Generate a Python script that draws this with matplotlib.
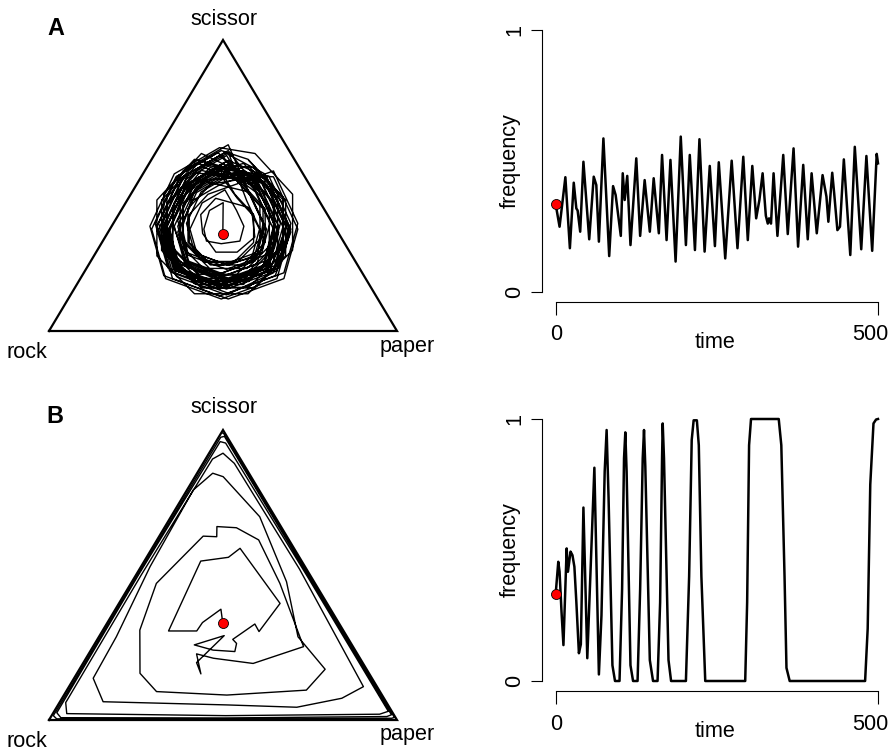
import matplotlib
matplotlib.use("Agg")
import matplotlib.pyplot as plt
import matplotlib.transforms as mtransforms

plt.rcParams['font.family'] = ['Liberation Sans', 'DejaVu Sans']

# simplex corners as (paper, scissor) fractions: rock, paper, scissor, back to rock
corner_paper = [0, 1, 0, 0]
corner_scissor = [0, 0, 1, 0]

# panel A: trajectory inside the simplex (paper, scissor fractions, estimated by eye)
pathA_paper = [0.333,
    0.280, 0.254, 0.270, 0.298, 0.345, 0.394, 0.380, 0.332,
    0.263, 0.220, 0.230, 0.293, 0.390, 0.453, 0.430, 0.360,
    0.251, 0.236, 0.274, 0.344, 0.405, 0.430, 0.384, 0.313,
    0.229, 0.178, 0.205, 0.265, 0.382, 0.470, 0.430, 0.334,
    0.192, 0.169, 0.227, 0.330, 0.423, 0.449, 0.391, 0.284,
    0.212, 0.144, 0.160, 0.250, 0.416, 0.516, 0.480, 0.352,
    0.162, 0.140, 0.209, 0.347, 0.470, 0.505, 0.428, 0.286,
    0.246, 0.186, 0.200, 0.288, 0.424, 0.512, 0.465, 0.368,
    0.189, 0.112, 0.130, 0.243, 0.418, 0.531, 0.505, 0.346,
    0.123, 0.085, 0.181, 0.354, 0.508, 0.551, 0.455, 0.277,
    0.185, 0.100, 0.120, 0.245, 0.440, 0.565, 0.520, 0.360,
    0.222, 0.154, 0.170, 0.290, 0.426, 0.526, 0.490, 0.362,
    0.192, 0.166, 0.233, 0.354, 0.462, 0.492, 0.425, 0.300,
    0.239, 0.188, 0.200, 0.275, 0.392, 0.467, 0.440, 0.344,
    0.209, 0.132, 0.150, 0.263, 0.438, 0.551, 0.510, 0.366,
    0.133, 0.099, 0.185, 0.341, 0.479, 0.518, 0.432, 0.271,
    0.206, 0.146, 0.175, 0.248, 0.384, 0.472, 0.440, 0.328,
    0.195, 0.110, 0.130, 0.255, 0.450, 0.575, 0.530, 0.370,
    0.222, 0.203, 0.251, 0.337, 0.414, 0.436, 0.388, 0.299,
    0.202, 0.134, 0.150, 0.250, 0.406, 0.506, 0.470, 0.342,
    0.219, 0.142, 0.160, 0.273, 0.448, 0.545, 0.520, 0.376,
    0.182, 0.152, 0.229, 0.367, 0.490, 0.525, 0.448, 0.306,
    0.226, 0.166, 0.180, 0.268, 0.404, 0.492, 0.460, 0.348,
    0.232, 0.164, 0.180, 0.280, 0.436, 0.536, 0.500, 0.372,
    0.133, 0.095, 0.191, 0.364, 0.518, 0.561, 0.465, 0.287,
    0.175, 0.090, 0.110, 0.235, 0.430, 0.555, 0.525, 0.350,
    0.199, 0.122, 0.140, 0.253, 0.428, 0.541, 0.500, 0.356,
    0.172, 0.146, 0.213, 0.334, 0.442, 0.472, 0.405, 0.280,
    0.249, 0.198, 0.210, 0.285, 0.402, 0.477, 0.450, 0.354,
    0.212, 0.144, 0.160, 0.260, 0.416, 0.516, 0.480, 0.352,
    0.153, 0.119, 0.205, 0.361, 0.499, 0.538, 0.452, 0.291,
    0.236, 0.176, 0.190, 0.278, 0.414, 0.502, 0.470, 0.358,
    0.179, 0.102, 0.120, 0.233, 0.408, 0.521, 0.480, 0.336,
    0.212, 0.189, 0.247, 0.350, 0.443, 0.469, 0.411, 0.304,
    0.222, 0.154, 0.170, 0.270, 0.426, 0.526, 0.490, 0.362,
    0.205, 0.120, 0.140, 0.265, 0.460, 0.585, 0.540, 0.380,
    0.152, 0.122, 0.199, 0.337, 0.460, 0.495, 0.418, 0.276,
    0.216, 0.156, 0.170, 0.258, 0.394, 0.482, 0.450, 0.338,
    0.209, 0.132, 0.150, 0.263, 0.438, 0.551, 0.510, 0.366,
    0.143, 0.109, 0.195, 0.351, 0.489, 0.528, 0.442, 0.281]
pathA_scissor = [0.333,
    0.441, 0.414, 0.350, 0.309, 0.300, 0.309, 0.360, 0.414,
    0.485, 0.440, 0.350, 0.265, 0.230, 0.265, 0.350, 0.425,
    0.456, 0.400, 0.335, 0.271, 0.271, 0.323, 0.400, 0.456,
    0.532, 0.478, 0.355, 0.268, 0.226, 0.255, 0.370, 0.478,
    0.514, 0.430, 0.315, 0.237, 0.237, 0.315, 0.430, 0.514,
    0.576, 0.504, 0.360, 0.235, 0.168, 0.224, 0.360, 0.504,
    0.552, 0.440, 0.286, 0.182, 0.175, 0.286, 0.440, 0.552,
    0.539, 0.476, 0.350, 0.231, 0.182, 0.231, 0.365, 0.476,
    0.603, 0.522, 0.360, 0.207, 0.144, 0.207, 0.345, 0.522,
    0.590, 0.450, 0.258, 0.128, 0.128, 0.258, 0.450, 0.590,
    0.620, 0.530, 0.350, 0.180, 0.110, 0.180, 0.350, 0.530,
    0.586, 0.514, 0.370, 0.220, 0.178, 0.234, 0.370, 0.514,
    0.538, 0.440, 0.306, 0.215, 0.215, 0.306, 0.440, 0.538,
    0.502, 0.448, 0.340, 0.238, 0.196, 0.238, 0.340, 0.448,
    0.613, 0.532, 0.370, 0.217, 0.154, 0.217, 0.370, 0.532,
    0.576, 0.450, 0.277, 0.160, 0.160, 0.277, 0.450, 0.576,
    0.549, 0.486, 0.345, 0.241, 0.192, 0.241, 0.360, 0.486,
    0.640, 0.550, 0.370, 0.200, 0.130, 0.200, 0.370, 0.550,
    0.470, 0.400, 0.304, 0.239, 0.239, 0.304, 0.400, 0.470,
    0.566, 0.494, 0.350, 0.214, 0.158, 0.214, 0.350, 0.494,
    0.583, 0.502, 0.340, 0.187, 0.124, 0.200, 0.340, 0.502,
    0.562, 0.450, 0.296, 0.192, 0.192, 0.296, 0.450, 0.562,
    0.569, 0.506, 0.380, 0.261, 0.212, 0.261, 0.380, 0.506,
    0.576, 0.504, 0.360, 0.224, 0.168, 0.224, 0.360, 0.504,
    0.610, 0.470, 0.278, 0.148, 0.148, 0.278, 0.470, 0.610,
    0.630, 0.540, 0.360, 0.190, 0.120, 0.190, 0.340, 0.540,
    0.613, 0.532, 0.370, 0.217, 0.154, 0.217, 0.370, 0.532,
    0.518, 0.420, 0.286, 0.195, 0.195, 0.286, 0.420, 0.518,
    0.532, 0.478, 0.370, 0.268, 0.226, 0.268, 0.370, 0.478,
    0.566, 0.494, 0.350, 0.214, 0.158, 0.214, 0.350, 0.494,
    0.566, 0.440, 0.267, 0.150, 0.150, 0.267, 0.440, 0.566,
    0.549, 0.486, 0.360, 0.241, 0.192, 0.241, 0.360, 0.486,
    0.613, 0.532, 0.370, 0.217, 0.154, 0.217, 0.370, 0.532,
    0.504, 0.420, 0.305, 0.227, 0.227, 0.305, 0.420, 0.504,
    0.556, 0.484, 0.340, 0.204, 0.148, 0.204, 0.340, 0.484,
    0.620, 0.530, 0.350, 0.180, 0.110, 0.180, 0.350, 0.530,
    0.542, 0.430, 0.276, 0.172, 0.172, 0.276, 0.430, 0.542,
    0.539, 0.476, 0.350, 0.231, 0.182, 0.231, 0.350, 0.476,
    0.603, 0.522, 0.360, 0.207, 0.144, 0.207, 0.360, 0.522,
    0.586, 0.460, 0.287, 0.170, 0.170, 0.287, 0.460, 0.586]

# panel A: frequency over time
timeA = [0, 6, 15, 22, 28, 32, 34, 38, 43, 52, 59, 63, 67, 74, 83, 89, 93, 101,
         104, 107, 111, 116, 125, 131, 138, 146, 152, 160, 165, 172, 178, 186,
         194, 202, 208, 216, 223, 231, 239, 247, 253, 263, 273, 282, 291, 298,
         305, 311, 316, 321, 326, 329, 331, 334, 338, 344, 353, 360, 369, 376,
         384, 391, 397, 405, 414, 420, 423, 429, 432, 437, 441, 447, 457, 464,
         474, 482, 491, 498, 500]
freqA = [0.333, 0.248, 0.437, 0.166, 0.416, 0.318, 0.310, 0.229, 0.496, 0.200,
         0.439, 0.407, 0.191, 0.585, 0.136, 0.403, 0.369, 0.213, 0.452, 0.350,
         0.442, 0.178, 0.509, 0.213, 0.426, 0.229, 0.433, 0.223, 0.522, 0.197,
         0.503, 0.115, 0.592, 0.178, 0.522, 0.159, 0.582, 0.153, 0.480, 0.174,
         0.494, 0.127, 0.500, 0.166, 0.515, 0.197, 0.480, 0.280, 0.350, 0.452,
         0.290, 0.260, 0.280, 0.260, 0.452, 0.213, 0.522, 0.220, 0.547, 0.172,
         0.484, 0.200, 0.452, 0.223, 0.445, 0.363, 0.267, 0.454, 0.376, 0.235,
         0.248, 0.505, 0.140, 0.553, 0.162, 0.518, 0.156, 0.526, 0.490]

# panel B: trajectory inside the simplex
pathB_paper = [0.333, 0.303, 0.273, 0.271, 0.190, 0.162, 0.235, 0.253, 0.463,
               0.451, 0.426, 0.389, 0.407, 0.416, 0.351, 0.288, 0.358, 0.325,
               0.357, 0.310, 0.366, 0.489, 0.605, 0.428, 0.292, 0.207, 0.149,
               0.166, 0.126, 0.073, 0.106, 0.181, 0.260, 0.468, 0.688, 0.706,
               0.572, 0.444, 0.255, 0.081, 0.045, 0.018, 0.026, 0.050, 0.055,
               0.124, 0.485, 0.690, 0.804, 0.846,
               0.460, 0.090, 0.040, 0.020, 0.015, 0.018, 0.040, 0.500, 0.940,
               0.960, 0.500, 0.030, 0.012, 0.007, 0.010, 0.030, 0.500, 0.965,
               0.975, 0.500, 0.015, 0.006, 0.004, 0.005, 0.020, 0.500, 0.982,
               0.988, 0.500, 0.008, 0.003]
pathB_scissor = [0.333, 0.382, 0.336, 0.307, 0.307, 0.548, 0.561, 0.592, 0.402,
                 0.305, 0.331, 0.278, 0.264, 0.236, 0.241, 0.259, 0.291, 0.198,
                 0.159, 0.228, 0.213, 0.195, 0.253, 0.471, 0.621, 0.663, 0.667,
                 0.632, 0.634, 0.471, 0.310, 0.161, 0.098, 0.086, 0.103, 0.175,
                 0.287, 0.477, 0.701, 0.839, 0.851, 0.793, 0.529, 0.287, 0.144,
                 0.063, 0.052, 0.044, 0.075, 0.115,
                 0.520, 0.885, 0.920, 0.900, 0.500, 0.060, 0.022, 0.015, 0.020,
                 0.030, 0.490, 0.955, 0.960, 0.500, 0.025, 0.008, 0.007, 0.012,
                 0.018, 0.494, 0.978, 0.975, 0.500, 0.015, 0.004, 0.003, 0.006,
                 0.009, 0.497, 0.988, 0.990]

# panel B: frequency over time
timeB = [0, 4, 6, 9, 12, 17, 19, 23, 26, 29, 32, 36, 39, 43, 49, 60, 67, 71,
         76, 79, 82, 88, 92, 99, 103, 106, 108, 110, 116, 120, 127, 131, 135,
         137, 139, 146, 151, 158, 162, 165, 166, 168, 175, 179, 202, 207, 211,
         214, 219, 222, 226, 232, 294, 297, 300, 303, 346, 350, 355, 358, 363,
         480, 484, 488, 493, 497, 500]
freqB = [0.333, 0.455, 0.417, 0.265, 0.137, 0.506, 0.417, 0.494, 0.480, 0.436,
         0.303, 0.106, 0.140, 0.662, 0.087, 0.814, 0.025, 0.250, 0.800, 0.958,
         0.700, 0.060, 0.000, 0.000, 0.350, 0.850, 0.949, 0.800, 0.060, 0.000,
         0.000, 0.350, 0.850, 0.958, 0.820, 0.080, 0.000, 0.000, 0.300, 0.850,
         0.983, 0.850, 0.080, 0.000, 0.000, 0.400, 0.920, 0.995, 0.995, 0.900,
         0.400, 0.000, 0.000, 0.300, 0.900, 1.000, 1.000, 0.900, 0.400, 0.050,
         0.000, 0.000, 0.200, 0.750, 0.983, 0.998, 1.000]

start_freq = 1 / 3
time_ticks = [0, 500]
time_ticklabels = ['0', '500']

fig = plt.figure(figsize=(8.94, 7.52), dpi=100)
W, H = 894, 752
FS = 15.6


def to_xy(paper, scissor):
    x = [p + s / 2 for p, s in zip(paper, scissor)]
    return x, list(scissor)


def simplex(rect, paper, scissor, lab_y, lw):
    ax = fig.add_axes(rect)
    ax.set_xlim(0, 1)
    ax.set_ylim(0, 1)
    ax.axis('off')
    x, y = to_xy(paper, scissor)
    ax.plot(x, y, color='black', lw=lw, clip_on=False)
    cx, cy = to_xy(corner_paper, corner_scissor)
    ax.plot(cx, cy, color='black', lw=1.6, clip_on=False, solid_joinstyle='miter')
    dx, dy = to_xy([start_freq], [start_freq])
    ax.plot(dx, dy, 'o', color='red', mec='black', mew=0.6, ms=7.2, clip_on=False,
            zorder=5)
    ax.text(0.503, lab_y[0], 'scissor', ha='center', va='baseline', fontsize=FS,
            transform=ax.transAxes)
    ax.text(-0.062, lab_y[1], 'rock', ha='center', va='baseline', fontsize=FS,
            transform=ax.transAxes)
    ax.text(1.030, lab_y[2], 'paper', ha='center', va='baseline', fontsize=FS,
            transform=ax.transAxes)
    return ax


def series(rect, t, f, xoff, lab_base):
    ax = fig.add_axes(rect)
    ax.plot(t, f, color='black', lw=1.8, clip_on=False)
    ax.plot([0], [start_freq], 'o', color='red', mec='black', mew=0.6, ms=7.2,
            clip_on=False, zorder=5)
    ax.set_xlim(0, 500)
    ax.set_ylim(0, 1)
    for side in ['top', 'right']:
        ax.spines[side].set_visible(False)
    ax.spines['left'].set_position(('outward', 9.9))
    ax.spines['bottom'].set_position(('outward', xoff))
    ax.spines['left'].set_bounds(0, 1)
    ax.spines['bottom'].set_bounds(0, 500)
    for side in ['left', 'bottom']:
        ax.spines[side].set_linewidth(0.8)
    ax.set_xticks(time_ticks)
    ax.set_yticks([0, 1])
    ax.set_yticklabels(['0', '1'])
    ax.tick_params(axis='x', direction='out', length=9.4, width=0.8,
                   labelbottom=False)
    ax.tick_params(axis='y', direction='out', length=8.2, width=0.8, pad=4,
                   labelsize=FS, labelrotation=90)
    for lab in ax.get_yticklabels():
        lab.set_va('center')
    # x tick labels; the last one sits slightly left of its tick as in the original
    trans = mtransforms.blended_transform_factory(ax.transData, ax.transAxes)
    shifts = [0.8, -7.5]
    for tk, lab, sh in zip(time_ticks, time_ticklabels, shifts):
        off = mtransforms.ScaledTranslation(sh / 100, 0, fig.dpi_scale_trans)
        ax.text(tk, lab_base, lab, ha='center', va='baseline', fontsize=FS,
                transform=trans + off)
    ax.text(0.494, -0.215, 'time', ha='center', va='baseline', fontsize=FS,
            transform=ax.transAxes)
    ax.text(-0.142, 0.5, 'frequency', ha='center', va='center', rotation=90,
            fontsize=FS, transform=ax.transAxes)
    return ax


simplex([49 / W, (H - 331) / H, 348 / W, 291 / H], pathA_paper, pathA_scissor,
        (1.0515, -0.0928, -0.0705), 1.0)
simplex([49 / W, (H - 720) / H, 348 / W, 290 / H], pathB_paper, pathB_scissor,
        (1.0586, -0.093, -0.0676), 1.0)

series([555.7 / W, (H - 291.7) / H, 322.3 / W, 262 / H], timeA, freqA, 7.4, -0.184)
series([555.7 / W, (H - 681) / H, 322.3 / W, 262 / H], timeB, freqB, 7.2, -0.187)

fig.text(0.0624, 0.9535, 'A', ha='center', va='baseline', fontsize=16.8,
         fontweight='bold')
fig.text(0.0615, 0.4375, 'B', ha='center', va='baseline', fontsize=16.8,
         fontweight='bold')

fig.savefig('out.png', dpi=100)
